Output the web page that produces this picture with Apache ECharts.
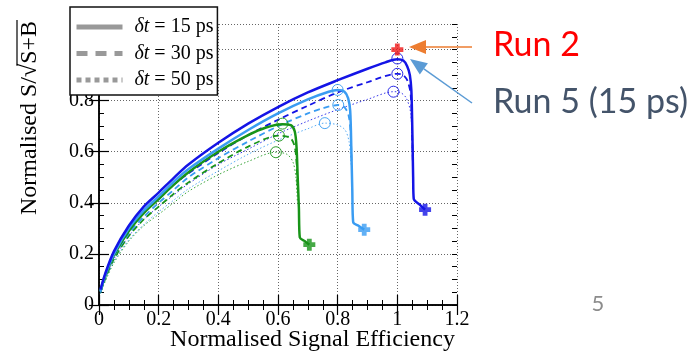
<!DOCTYPE html>
<html><head><meta charset="utf-8">
<script src="https://cdn.jsdelivr.net/npm/echarts@6/dist/echarts.min.js"></script>
<style>html,body{margin:0;padding:0;background:#fff}#c{width:698px;height:354px}</style>
</head><body><div id="c"></div>
<script>
// ---- data ----
const legendNames = ['δt = 15 ps', 'δt = 30 ps', 'δt = 50 ps'];
const blue15 = [[0.005,0.06],[0.02,0.12],[0.05,0.21],[0.1,0.31],[0.15,0.385],[0.2,0.44],[0.25,0.497],[0.3,0.55],[0.4,0.635],[0.5,0.71],[0.6,0.775],[0.7,0.832],[0.8,0.88],[0.9,0.925],[0.96,0.95],[1.0,0.962],[1.02,0.957],[1.033,0.935],[1.042,0.9],[1.047,0.84],[1.05,0.7],[1.053,0.5],[1.055,0.415],[1.075,0.393],[1.093,0.373]];
const blue30 = [[0.005,0.055],[0.02,0.11],[0.05,0.195],[0.1,0.29],[0.15,0.36],[0.2,0.415],[0.25,0.47],[0.3,0.515],[0.4,0.595],[0.5,0.665],[0.6,0.725],[0.7,0.78],[0.8,0.832],[0.9,0.872],[1.0,0.905],[1.02,0.9],[1.035,0.875],[1.045,0.82],[1.05,0.65],[1.053,0.5]];
const blue50 = [[0.005,0.05],[0.02,0.1],[0.05,0.18],[0.1,0.27],[0.15,0.335],[0.2,0.385],[0.25,0.43],[0.3,0.475],[0.4,0.55],[0.5,0.61],[0.6,0.67],[0.7,0.72],[0.8,0.765],[0.9,0.805],[0.987,0.835],[1.01,0.832],[1.03,0.81],[1.045,0.75],[1.05,0.6]];
const light15 = [[0.005,0.055],[0.02,0.115],[0.05,0.2],[0.1,0.3],[0.15,0.37],[0.2,0.425],[0.25,0.482],[0.3,0.532],[0.4,0.612],[0.5,0.685],[0.6,0.75],[0.7,0.805],[0.77,0.835],[0.8,0.842],[0.822,0.836],[0.835,0.81],[0.842,0.76],[0.846,0.6],[0.849,0.45],[0.852,0.324],[0.87,0.31],[0.889,0.295]];
const light30 = [[0.005,0.05],[0.02,0.105],[0.05,0.19],[0.1,0.28],[0.15,0.345],[0.2,0.4],[0.25,0.45],[0.3,0.5],[0.4,0.575],[0.5,0.64],[0.6,0.7],[0.7,0.75],[0.75,0.77],[0.802,0.783],[0.822,0.775],[0.836,0.745],[0.843,0.68],[0.847,0.55]];
const light50 = [[0.005,0.045],[0.02,0.095],[0.05,0.17],[0.1,0.255],[0.15,0.315],[0.2,0.365],[0.25,0.41],[0.3,0.455],[0.4,0.525],[0.5,0.59],[0.6,0.645],[0.7,0.69],[0.757,0.712],[0.8,0.705],[0.825,0.685],[0.838,0.64],[0.845,0.55]];
const green15 = [[0.005,0.055],[0.02,0.11],[0.05,0.195],[0.1,0.29],[0.15,0.36],[0.2,0.415],[0.25,0.47],[0.3,0.52],[0.4,0.6],[0.5,0.665],[0.56,0.695],[0.615,0.708],[0.643,0.704],[0.656,0.68],[0.662,0.62],[0.666,0.5],[0.67,0.38],[0.673,0.265],[0.69,0.25],[0.705,0.236]];
const green30 = [[0.005,0.05],[0.02,0.1],[0.05,0.18],[0.1,0.27],[0.15,0.335],[0.2,0.385],[0.25,0.435],[0.3,0.48],[0.4,0.555],[0.5,0.62],[0.603,0.663],[0.64,0.655],[0.655,0.625],[0.662,0.56],[0.666,0.45]];
const green50 = [[0.005,0.045],[0.02,0.09],[0.05,0.165],[0.1,0.25],[0.15,0.31],[0.2,0.355],[0.25,0.4],[0.3,0.445],[0.4,0.51],[0.5,0.562],[0.593,0.598],[0.63,0.59],[0.65,0.56],[0.66,0.5],[0.665,0.4]];
const blueMax = [[1.0,0.965],[1.0,0.905],[0.987,0.835]];
const lightMax = [[0.80,0.842],[0.802,0.783],[0.757,0.712]];
const greenMax = [[0.615,0.71],[0.603,0.663],[0.593,0.598]];
const blueEnd = [[1.093,0.373]];
const lightEnd = [[0.889,0.295]];
const greenEnd = [[0.705,0.236]];
const run2 = [[1.0,1.0]];
const annotations = ['Run 2', 'Run 5 (15 ps)'];

// ---- styles ----
const SERIF = '"Liberation Serif", "Times New Roman", serif';
const SANS = 'Lato, "Open Sans", sans-serif';
const cBlue = '#1414e6', cLight = '#3a9cf2', cGreen = '#189418', cRed = '#f01818';
const CROSS = 'path://M3,0H7V3H10V7H7V10H3V7H0V3H3Z';
const lineTypes = ['solid', [6,4], [1.5,2.2]];
const lineWidths = [2.5, 1.8, 1];

function curve(data, color, k) {
  return {type:'line', data, symbol:'none', silent:true, z: 5 - k, smooth:0.3,
    lineStyle:{color, width: lineWidths[k], type: lineTypes[k], opacity: k===2?0.85:1}};
}
function circles(data, color) {
  return {type:'scatter', data, symbol:'circle', symbolSize:11, silent:true, z:6,
    itemStyle:{color:'rgba(255,255,255,0)', borderColor:color, borderWidth:1, opacity:0.9}};
}
function crosses(data, color) {
  return {type:'scatter', data, symbol:CROSS, symbolSize:12, silent:true, z:7, itemStyle:{color}};
}

const ctx = document.createElement('canvas').getContext('2d');
ctx.font = '24px "Liberation Serif"';
const yt1 = 'Normalised S/√', yt2 = 'S+B';
const w1 = ctx.measureText(yt1).width, w2 = ctx.measureText(yt2).width;

function arrow(x0, y0, x1, y1, color, headLen, headW) {
  const dx = x1 - x0, dy = y1 - y0, L = Math.hypot(dx, dy), ux = dx / L, uy = dy / L;
  const bx = x1 - ux * headLen, by = y1 - uy * headLen, px = -uy * headW, py = ux * headW;
  return [
    {type:'line', z:100, shape:{x1:x0, y1:y0, x2:bx, y2:by}, style:{stroke:color, lineWidth:1.5}},
    {type:'polygon', z:100, shape:{points:[[x1,y1],[bx+px,by+py],[bx-px,by-py]]}, style:{fill:color}}
  ];
}

const axisCommon = {
  axisLine:{show:true, lineStyle:{color:'#000', width:1.5}},
  axisTick:{show:true, inside:true, length:10, lineStyle:{color:'#000', width:1.2}},
  splitLine:{show:false}, axisLabel:{show:false}
};

const chart = echarts.init(document.getElementById('c'), null, {renderer:'canvas'});
chart.setOption({
  animation:false,
  backgroundColor:'#fff',
  grid:{left:99, top:24, width:358, height:281, outerBoundsMode:'none', containLabel:false},
  legend:{
    data: legendNames, orient:'vertical', left:70, top:7, padding:[9,4,4,4], itemGap:4.5,
    itemWidth:46, itemHeight:14, selectedMode:false, backgroundColor:'#fff',
    borderColor:'#111', borderWidth:1.5, borderRadius:0, z:20,
    lineStyle:{width:5},
    itemStyle:{color:'rgba(0,0,0,0)', borderColor:'rgba(0,0,0,0)', borderWidth:0},
    formatter: n => '{i|δt}' + n.slice(2),
    textStyle:{fontFamily:SERIF, fontSize:20, color:'#000', lineHeight:22, padding:[0,0,0,7],
      rich:{i:{fontFamily:SERIF, fontSize:20, fontStyle:'italic', color:'#000'}}}
  },
  xAxis:[
    Object.assign({}, axisCommon, {type:'value', position:'bottom', min:0, max:1.2, interval:0.2,
      minorTick:{show:true, splitNumber:4, length:5, lineStyle:{color:'#000', width:1}},
      splitLine:{show:true, lineStyle:{color:'#666', width:1, type:[1,2]}},
      axisLabel:{show:true, fontFamily:SERIF, fontSize:20, color:'#000', margin:5},
      name:'Normalised Signal Efficiency', nameLocation:'middle', nameGap:23, nameMoveOverlap:false,
      nameTextStyle:{fontFamily:SERIF, fontSize:24, color:'#000', align:'center', verticalAlign:'top', padding:[0,0,0,69], lineHeight:24}}),
    Object.assign({}, axisCommon, {type:'value', position:'top', min:0, max:1.2, interval:0.2,
      minorTick:{show:true, splitNumber:4, length:5, lineStyle:{color:'#000', width:1}}})
  ],
  yAxis:[
    Object.assign({}, axisCommon, {type:'value', position:'left', min:0, max:1.1, interval:0.2,
      splitLine:{show:true, lineStyle:{color:'#666', width:1, type:[1,2]}},
      axisLabel:{show:true, fontFamily:SERIF, fontSize:20, color:'#000', margin:5, showMaxLabel:false}}),
    Object.assign({}, axisCommon, {type:'value', position:'right', min:0, max:1.1, interval:0.2}),
    Object.assign({}, axisCommon, {type:'value', position:'left', min:0, max:1.1, interval:0.05,
      axisLine:{show:false}, axisTick:{show:true, inside:true, length:5, lineStyle:{color:'#000', width:1}}}),
    Object.assign({}, axisCommon, {type:'value', position:'right', min:0, max:1.1, interval:0.05,
      axisLine:{show:false}, axisTick:{show:true, inside:true, length:5, lineStyle:{color:'#000', width:1}}})
  ],
  series:[
    {name:legendNames[0], type:'line', data:[], symbol:'none', lineStyle:{color:'#999', width:5, type:'solid'}, itemStyle:{color:'#999'}},
    {name:legendNames[1], type:'line', data:[], symbol:'none', lineStyle:{color:'#999', width:5, type:[11,8]}, itemStyle:{color:'#999'}},
    {name:legendNames[2], type:'line', data:[], symbol:'none', lineStyle:{color:'#999', width:5, type:[5,4]}, itemStyle:{color:'#999'}},
    curve(green50, cGreen, 2), curve(light50, cLight, 2), curve(blue50, cBlue, 2),
    curve(green30, cGreen, 1), curve(light30, cLight, 1), curve(blue30, cBlue, 1),
    curve(green15, cGreen, 0), curve(light15, cLight, 0), curve(blue15, cBlue, 0),
    circles(greenMax, cGreen), circles(lightMax, cLight), circles(blueMax, cBlue),
    crosses(greenEnd, cGreen), crosses(lightEnd, cLight), crosses(blueEnd, cBlue),
    crosses(run2, cRed)
  ],
  graphic:[
    {type:'group', x:30, y:215, rotation:Math.PI/2, children:[
      {type:'text', x:0, y:0, style:{text:yt1, font:'24px "Liberation Serif"', fill:'#000', align:'left', verticalAlign:'middle'}},
      {type:'text', x:w1, y:0, style:{text:yt2, font:'24px "Liberation Serif"', fill:'#000', align:'left', verticalAlign:'middle'}},
      {type:'line', shape:{x1:w1-2, y1:-13, x2:w1+w2+1, y2:-13}, style:{stroke:'#000', lineWidth:1.2}}
    ]},
    ...arrow(472, 47, 409, 47, '#ed7d31', 17, 7),
    ...arrow(472, 103, 410, 59, '#5b9bd5', 17, 7),
    {type:'text', z:100, x:493, y:45, style:{text:annotations[0], font:'34px ' + SANS, fill:'#ff0000', align:'left', verticalAlign:'middle'}},
    {type:'text', z:100, x:493, y:102, style:{text:annotations[1], font:'34px ' + SANS, fill:'#44546a', align:'left', verticalAlign:'middle'}},
    {type:'text', z:100, x:598, y:304, style:{text:'5', font:'22px ' + SANS, fill:'#8c8c8c', align:'center', verticalAlign:'middle'}}
  ]
});
</script>
</body></html>
